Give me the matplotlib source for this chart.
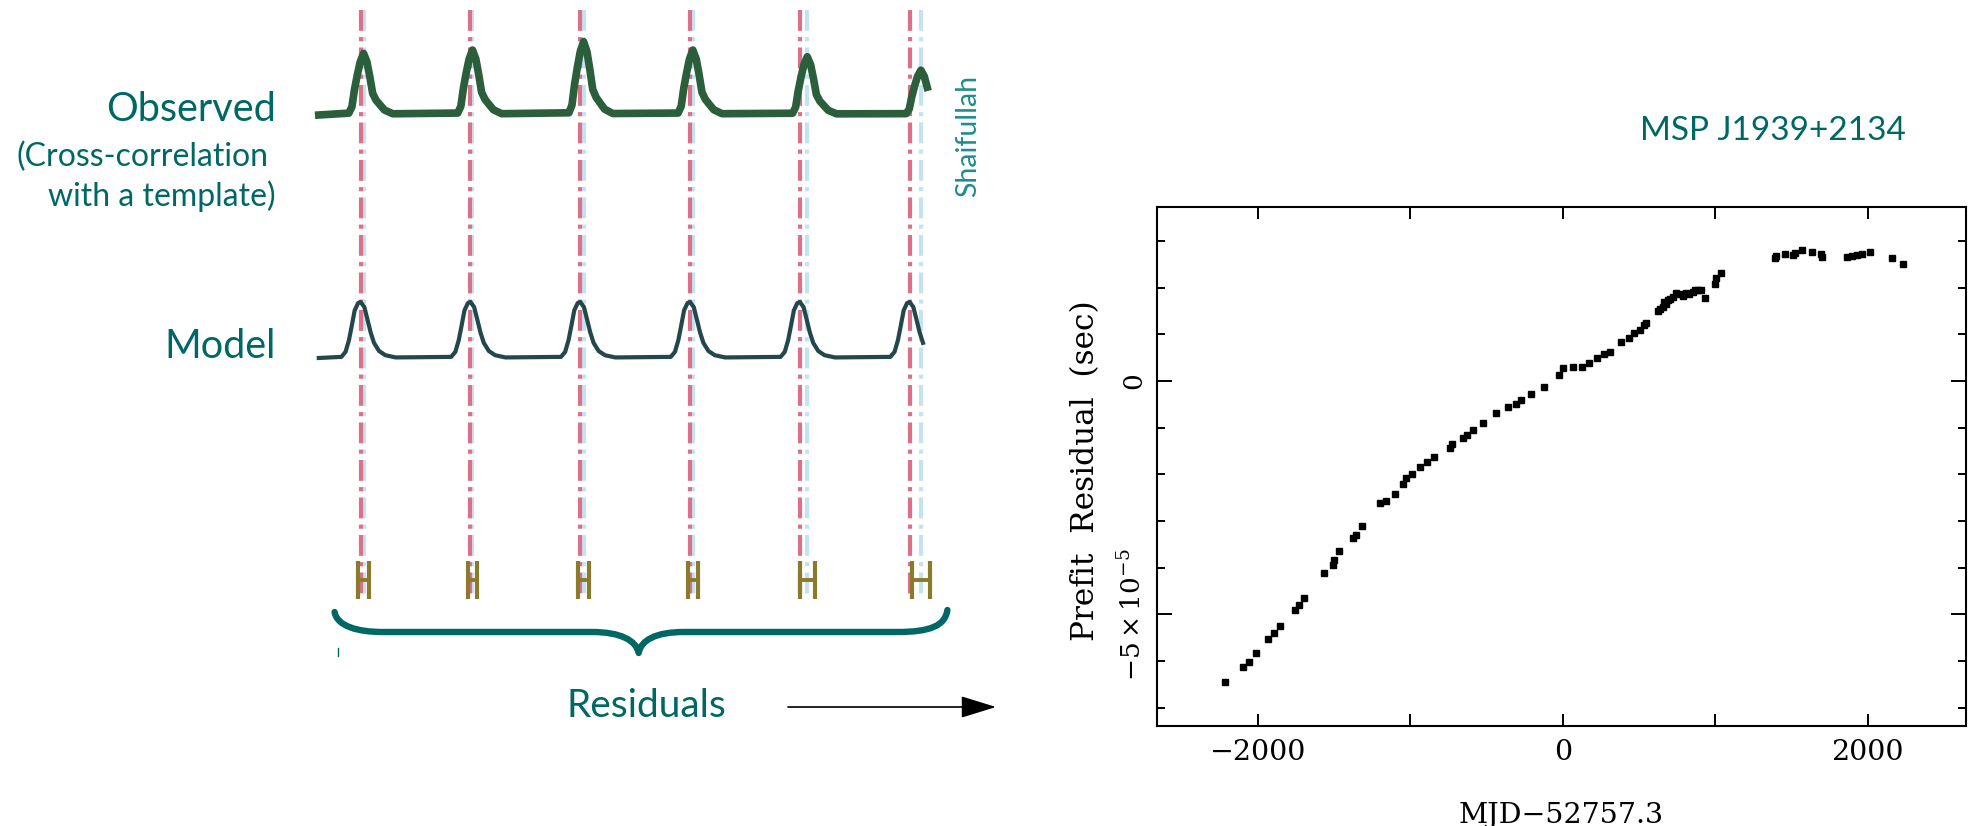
import numpy as np
import matplotlib
matplotlib.use("Agg")
import matplotlib.pyplot as plt
from matplotlib.path import Path
from matplotlib.patches import PathPatch
from matplotlib.ticker import FixedLocator, MultipleLocator, NullFormatter

# ---------------------------------------------------------------- data
# Right panel: prefit timing residuals of MSP J1939+2134
mjd_offset = [-2217, -2099, -2061, -2010, -1935, -1893, -1853, -1760, -1728, -1697,
              -1564, -1510, -1502, -1467, -1377, -1358, -1318, -1201, -1162, -1104,
              -1045, -1030, -989, -939, -890, -847, -737, -726, -653, -627, -588,
              -522, -441, -360, -309, -276, -211, -123, -24, 4, 64, 125, 173, 222,
              272, 309, 382, 436, 469, 509, 531, 546, 623, 640, 656, 667, 680, 689,
              700, 722, 743, 770, 787, 809, 830, 853, 870, 886, 908, 934, 996, 1007,
              1039, 1390, 1401, 1456, 1511, 1522, 1566, 1632, 1697, 1702, 1862, 1895,
              1928, 1961, 2015, 2162, 2230]
residual_1e5 = [-6.45, -6.12, -6.01, -5.83, -5.53, -5.40, -5.25, -4.90, -4.80, -4.65,
                -4.12, -3.94, -3.83, -3.65, -3.37, -3.30, -3.10, -2.61, -2.56, -2.42,
                -2.21, -2.08, -1.98, -1.85, -1.73, -1.62, -1.44, -1.34, -1.21, -1.16, -1.04,
                -0.89, -0.69, -0.56, -0.49, -0.41, -0.28, -0.12, 0.14, 0.27, 0.31, 0.31, 0.38, 0.49,
                0.59, 0.63, 0.83, 0.93, 1.02, 1.09, 1.20, 1.25, 1.51, 1.55, 1.59, 1.70, 1.66, 1.73,
                1.76, 1.81, 1.88, 1.86, 1.82, 1.88, 1.87, 1.91, 1.96, 1.95, 1.96, 1.78, 2.09, 2.20,
                2.31, 2.63, 2.68, 2.73, 2.71, 2.75, 2.81, 2.77, 2.73, 2.66, 2.66, 2.68,
                2.70, 2.73, 2.76, 2.64, 2.51]
x_major_ticks = [-2000, 0, 2000]
x_tick_labels = ["\u22122000", "0", "2000"]
y_major_ticks = [-5e-5, 0.0]
y_tick_labels = [r"$-5\times10^{-5}$", "0"]

# Left panel (schematic), phases in units of the pulse period
model_peaks = [0, 1, 2, 3, 4, 5]
obs_toa_offset = [0.027, 0.019, 0.031, 0.026, 0.068, 0.103]
toa_err = [0.047, 0.043, 0.053, 0.047, 0.066, 0.084]
obs_amp = [1.10, 1.16, 1.31, 1.16, 1.04, 0.80]
model_amp = [1.0, 1.0, 1.0, 1.0, 1.0, 1.0]
# pulse templates (phase offset from peak, relative amplitude)
model_tmpl_dx = [-0.175, -0.137, -0.106, -0.080, -0.054, -0.023, 0.0, 0.034, 0.061,
                 0.091, 0.122, 0.168, 0.225, 0.320]
model_tmpl_a = [0.02, 0.11, 0.32, 0.58, 0.85, 0.98, 1.0, 0.91, 0.70, 0.46, 0.27,
                0.125, 0.05, 0.01]
obs_tmpl_dx = [-0.134, -0.106, -0.083, -0.057, -0.031, 0.0, 0.031, 0.057, 0.083,
               0.114, 0.152, 0.191, 0.266]
obs_tmpl_a = [0.03, 0.135, 0.41, 0.65, 0.86, 1.0, 0.86, 0.62, 0.35, 0.24, 0.16,
              0.08, 0.02]
profile_start, profile_end = -0.381, 5.16

# ---------------------------------------------------------------- style
W, H = 1977, 826
TEAL = "#006864"
TEAL_LIGHT = "#1f8d8b"
OBS_COL = "#2b5e3a"
MODEL_COL = "#23474b"
RED = "#dc7089"
BLUE = "#c3e3f3"
OLIVE = "#8a7a2c"
PERIOD_PX = 109.8
X0_PX = 360.6

plt.rcParams["mathtext.fontset"] = "dejavuserif"

fig = plt.figure(figsize=(W / 100, H / 100), dpi=100)


def fx(px):
    return px / W


def fy(py):
    return 1 - py / H


# ---------------------------------------------------------------- left schematic
ax0 = fig.add_axes([0, 0, 1000 / W, 1])
ax0.set_xlim((0 - X0_PX) / PERIOD_PX, (1000 - X0_PX) / PERIOD_PX)
ax0.set_ylim(H, 0)
ax0.axis("off")

OBS_BASE, MODEL_BASE, AMP_SCALE = 115, 358, 56
LINE_TOP, LINE_BOT = 10, 598
ERR_Y = 580


def profile(centres, amps, tdx, ta, start, end):
    xs, ys = [start], [0.0]
    for c, a in zip(centres, amps):
        for dx, t in zip(tdx, ta):
            x = c + dx
            if start <= x <= end:
                xs.append(x)
                ys.append(a * t)
    return np.array(xs), np.array(ys)


obs_toa = [p + o for p, o in zip(model_peaks, obs_toa_offset)]

dash = (0, (5.0, 1.5, 1.0, 1.5))
ax0.vlines(obs_toa, LINE_TOP, LINE_BOT, colors=BLUE, lw=3.0, linestyles=[dash], zorder=1)
ax0.vlines(model_peaks, LINE_TOP, LINE_BOT, colors=RED, lw=3.0, linestyles=[dash], zorder=2)

xo, yo = profile(obs_toa, obs_amp, obs_tmpl_dx, obs_tmpl_a, profile_start, profile_end)
ax0.plot(xo, OBS_BASE - AMP_SCALE * yo, color=OBS_COL, lw=5.5, zorder=3,
         solid_joinstyle="round")
xm, ym = profile(model_peaks, model_amp, model_tmpl_dx, model_tmpl_a, profile_start, profile_end)
ax0.plot(xm, MODEL_BASE - AMP_SCALE * ym, color=MODEL_COL, lw=3.0, zorder=3)

ax0.errorbar(obs_toa, [ERR_Y] * len(obs_toa), xerr=toa_err, fmt="none", ecolor=OLIVE,
             elinewidth=2.8, capsize=13.7, capthick=3.0, zorder=4)


def P(px, py):
    return ((px - X0_PX) / PERIOD_PX, py)


brace_verts = [P(334.6, 612), P(337, 626), P(357, 632), P(383, 632),
               P(592, 632),
               P(620, 632), P(636, 640), P(638.7, 653),
               P(641, 640), P(656, 632), P(684, 632),
               P(897, 632),
               P(930, 632), P(945, 626), P(947.4, 610)]
brace_codes = [Path.MOVETO, Path.CURVE4, Path.CURVE4, Path.CURVE4,
               Path.LINETO,
               Path.CURVE4, Path.CURVE4, Path.CURVE4,
               Path.CURVE4, Path.CURVE4, Path.CURVE4,
               Path.LINETO,
               Path.CURVE4, Path.CURVE4, Path.CURVE4]
ax0.add_patch(PathPatch(Path(brace_verts, brace_codes), facecolor="none",
                        edgecolor=TEAL, lw=4.6, capstyle="round", joinstyle="round"))
ax0.plot([P(337.6, 648)[0], P(337.6, 656)[0]], [648, 656], color=TEAL, lw=1.0)

ax0.annotate("", xy=P(996, 707), xytext=P(788, 707),
             arrowprops=dict(arrowstyle="-|>,head_length=1.1,head_width=0.34",
                             mutation_scale=20, color="black", lw=1.2,
                             shrinkA=0, shrinkB=0))

# texts of the schematic
fam = ["Lato", "DejaVu Sans"]
fig.text(fx(276), fy(121), "Observed", ha="right", va="baseline", fontsize=28.5,
         color=TEAL, family=fam)
fig.text(fx(268), fy(166), "(Cross-correlation", ha="right", va="baseline", fontsize=23,
         color=TEAL, family=fam)
fig.text(fx(276), fy(206), "with a template)", ha="right", va="baseline", fontsize=23,
         color=TEAL, family=fam)
fig.text(fx(276), fy(358), "Model", ha="right", va="baseline", fontsize=28.5,
         color=TEAL, family=fam)
fig.text(fx(646), fy(717), "Residuals", ha="center", va="baseline", fontsize=28,
         color=TEAL, family=fam)
fig.text(fx(968), fy(136), "Shaifullah", ha="center", va="center", rotation=90,
         fontsize=20.5, color=TEAL_LIGHT, family=fam)
fig.text(fx(1773), fy(140), "MSP J1939+2134", ha="center", va="baseline", fontsize=24,
         color=TEAL, family=fam)

# ---------------------------------------------------------------- right plot
L, R, T, B = 1157, 1966, 207, 726
ax = fig.add_axes([fx(L), 1 - B / H, (R - L) / W, (B - T) / H])
ax.plot(mjd_offset, np.array(residual_1e5) * 1e-5, ls="none", marker="s",
        markersize=5, color="black", mec="black")
ax.set_xlim(-2662, 2645)
ax.set_ylim(-7.39e-5, 3.73e-5)

serif = "DejaVu Serif"
ax.xaxis.set_major_locator(FixedLocator(x_major_ticks))
ax.xaxis.set_minor_locator(MultipleLocator(1000))
ax.set_xticklabels(x_tick_labels, fontsize=20.5, family=serif)
ax.yaxis.set_major_locator(FixedLocator(y_major_ticks))
ax.yaxis.set_minor_locator(MultipleLocator(1e-5))
ax.yaxis.set_minor_formatter(NullFormatter())
ax.set_yticklabels(y_tick_labels, fontsize=19, family=serif, rotation=90, va="center")

ax.tick_params(which="both", direction="in", top=True, right=True, width=1.4)
ax.tick_params(axis="x", which="both", length=8.6, pad=9)
ax.tick_params(axis="y", which="major", length=10.5, pad=7.5)
ax.tick_params(axis="y", which="minor", length=6)
for s in ax.spines.values():
    s.set_linewidth(1.5)

ax.set_xlabel("MJD\u221252757.3", fontsize=20.5, family=serif)
ax.xaxis.set_label_coords(0.5, (B - 802) / (B - T))
ax.xaxis.label.set_va("top")
ax.set_ylabel("Prefit  Residual  (sec)", fontsize=22.5, family=serif)
ax.yaxis.set_label_coords((1101 - L) / (R - L), (B - 471) / (B - T))

fig.savefig("out.png", dpi=100)
